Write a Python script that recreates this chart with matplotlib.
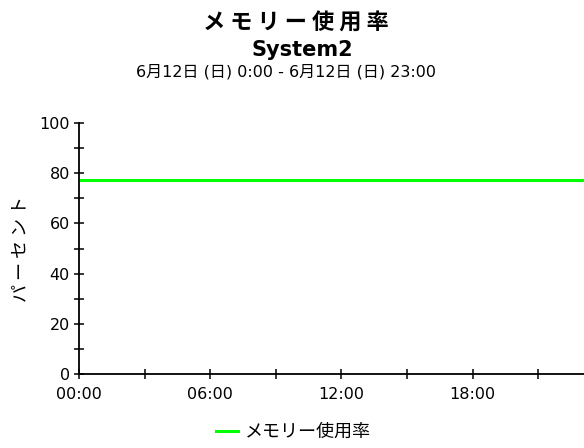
import matplotlib
matplotlib.use('Agg')
import matplotlib.pyplot as plt
from matplotlib.ticker import MultipleLocator

plt.rcParams['font.family'] = ['DejaVu Sans', 'Noto Sans CJK JP']
jp = ['Noto Sans CJK JP', 'Liberation Sans']

# hourly memory usage (%)
hours = list(range(0, 24))
usage = [77.3] * 24
x_ticks = [0, 6, 12, 18]
x_labels = ['00:00', '06:00', '12:00', '18:00']

title = 'メモリー使用率'
host = 'System2'
period = '6月12日 (日) 0:00 - 6月12日 (日) 23:00'
ylabel = 'パーセント'

fig = plt.figure(figsize=(5.84, 4.48), dpi=100)
ax = fig.add_axes([0.1353, 0.1652, 0.8647, 0.560])

ax.plot(hours, usage, color='#00ff00', lw=2.2, label=title)

ax.set_xlim(0, 23.1)
ax.set_ylim(0, 100)
ax.set_xticks(x_ticks)
ax.set_xticklabels(x_labels)
ax.xaxis.set_minor_locator(MultipleLocator(3))
ax.yaxis.set_major_locator(MultipleLocator(20))
ax.yaxis.set_minor_locator(MultipleLocator(10))
ax.tick_params(which='both', direction='inout', length=7, width=1.1, labelsize=11.5,
               colors='black')
ax.tick_params(axis='x', which='major', pad=6)
ax.tick_params(axis='y', which='major', pad=3)
for s in ['top', 'right']:
    ax.spines[s].set_visible(False)
for s in ['left', 'bottom']:
    ax.spines[s].set_linewidth(1.3)

ax.set_ylabel(' '.join(ylabel), fontsize=13, family=jp, labelpad=7)

fig.text(0.507, 0.949, ' '.join(title), ha='center', va='center', fontsize=16,
         fontweight='bold', family=jp)
fig.text(0.518, 0.888, host, ha='center', va='center', fontsize=15, fontweight='bold')
fig.text(0.49, 0.839, period, ha='center', va='center', fontsize=11.5)

leg = fig.legend(loc='center', bbox_to_anchor=(0.503, 0.036), frameon=False,
                 handlelength=1.2, handletextpad=0.4, prop={'family': jp, 'size': 13})

fig.savefig('out.png', dpi=100)
